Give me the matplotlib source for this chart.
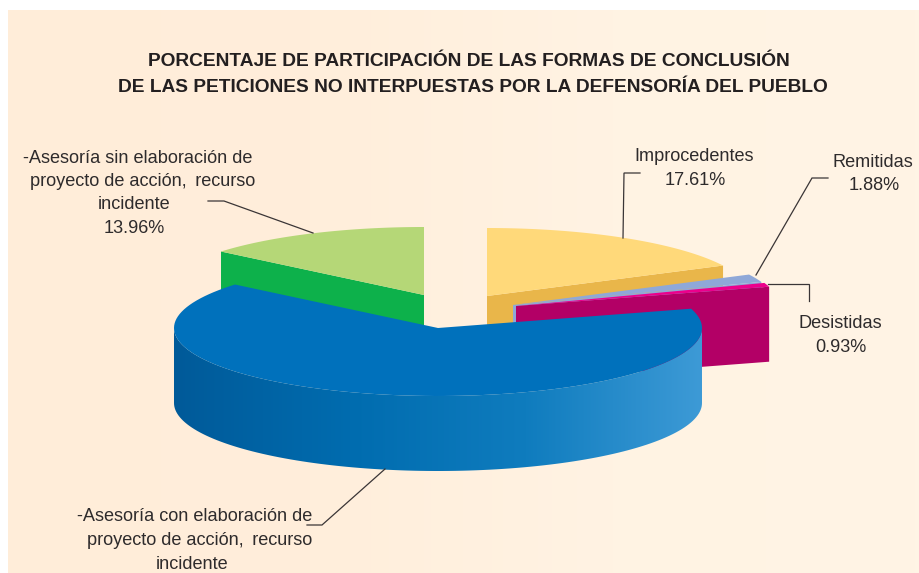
import numpy as np
import matplotlib
matplotlib.use('Agg')
import matplotlib.pyplot as plt
from matplotlib.colors import LinearSegmentedColormap
from matplotlib.patches import Polygon

# shares clockwise from 12 o'clock, last-but-one has no printed value in the source
categories = ['Improcedentes', 'Remitidas', 'Desistidas', 'Asesoria con', 'Asesoria sin']
shares = [17.61, 1.88, 0.93, 65.62, 13.96]
apex_x = [487, 513, 516, 438, 424]
apex_y = [296, 305, 306, 328, 295]
top_colors = ['#FFD97A', '#8FA8D8', '#EC008C', '#0071BC', '#B5D777']
side_colors = ['#E9B64A', '#8FA8D8', '#B30066', '#0071BC', '#0DB14B']

RX, RY, DEPTH = 264, 68, 75
INK = '#2E2B2C'

plt.rcParams['font.family'] = ['Liberation Sans', 'DejaVu Sans']
fig = plt.figure(figsize=(9.19, 5.73), dpi=100, facecolor='white')
ax = fig.add_axes([0, 0, 1, 1])
ax.axis('off')

# page background
bg = LinearSegmentedColormap.from_list('bg', ['#FFEDD9', '#FFEEDB', '#FFF3E3', '#FFF4E5'])
ax.imshow(np.linspace(0, 1, 256).reshape(1, -1), extent=[8, 919, 573, 10], cmap=bg,
          aspect='auto', zorder=0)


def ring(cx, cy, a0, a1, drop=0):
    a = np.radians(np.linspace(a0, a1, 120))
    return np.column_stack([cx + RX * np.sin(a), cy - RY * np.cos(a) + drop])


starts = np.cumsum([0] + shares[:-1]) * 3.6
ends = np.cumsum(shares) * 3.6
draw_order = [0, 1, 2, 4, 3]

for z, i in enumerate(draw_order):
    cx, cy = apex_x[i], apex_y[i]
    a0, a1 = starts[i], ends[i]
    base = 2 + z * 3
    if i == 3:
        # blue slice: outer wall with horizontal shading
        wall = np.vstack([ring(cx, cy, 90, 270), ring(cx, cy, 270, 90, DEPTH)])
        clip = Polygon(wall, closed=True, fc='none', ec='none', zorder=base)
        ax.add_patch(clip)
        shade = LinearSegmentedColormap.from_list(
            'shade', ['#005A99', '#006CAF', '#0F7CBE', '#3D9AD6'])
        im = ax.imshow(np.linspace(0, 1, 256).reshape(1, -1),
                       extent=[cx - RX, cx + RX, cy + RY + DEPTH, cy - 5],
                       cmap=shade, aspect='auto', zorder=base)
        im.set_clip_path(clip)
    else:
        # cut face on the front, extruded downwards
        end = ring(cx, cy, a1, a1)[0] if i != 4 else ring(cx, cy, a0, a0)[0]
        face = [[cx, cy], end, end + [0, DEPTH], [cx, cy + DEPTH]]
        ax.add_patch(Polygon(face, closed=True, fc=side_colors[i], ec='none', zorder=base))
    top = np.vstack([[[cx, cy]], ring(cx, cy, a0, a1)])
    ax.add_patch(Polygon(top, closed=True, fc=top_colors[i], ec='none', zorder=base + 1))

ax.set_xlim(0, 919)
ax.set_ylim(573, 0)

# leader lines
leaders = [
    ([623, 624, 640], [238, 173, 173]),
    ([756, 812, 828], [275, 178, 178]),
    ([768, 809, 809], [284, 284, 301]),
    ([313, 224, 208], [233, 201, 201]),
    ([385, 322, 307], [469, 525, 525]),
]
for lx, ly in leaders:
    ax.plot(lx, ly, color='#3A3536', lw=0.9, zorder=30, solid_joinstyle='miter')

# title lines are placed one by one, the source does not centre them exactly
title_lines = [
    (468.5, 66.5, 'PORCENTAJE DE PARTICIPACIÓN DE LAS FORMAS DE CONCLUSIÓN'),
    (472.5, 92.5, 'DE LAS PETICIONES NO INTERPUESTAS POR LA DEFENSORÍA DEL PUEBLO'),
]
for tx, ty, s in title_lines:
    ax.text(tx, ty, s, ha='center', va='baseline', fontsize=13.77, fontweight='bold',
            color='#231F20', zorder=31)

label_lines = [
    (694.5, 161, 'Improcedentes'), (695, 185, '17.61%'),
    (873, 167, 'Remitidas'), (874.5, 190, '1.88%'),
    (840.5, 328, 'Desistidas'), (841, 352, '0.93%'),
    (137.5, 163, '-Asesoría sin elaboración de'),
    (143, 186, 'proyecto de acción,\u2009 recurso'),
    (134.5, 209, 'incidente'), (134.5, 233, '13.96%'),
    (194.5, 521, '-Asesoría con elaboración de'),
    (199.5, 545, 'proyecto de acción,\u2009 recurso'),
    (192, 569, 'incidente'),
]
for tx, ty, s in label_lines:
    ax.text(tx, ty, s, ha='center', va='baseline', fontsize=13.1, color=INK, zorder=31)

fig.savefig('out.png', dpi=100, facecolor='white')
